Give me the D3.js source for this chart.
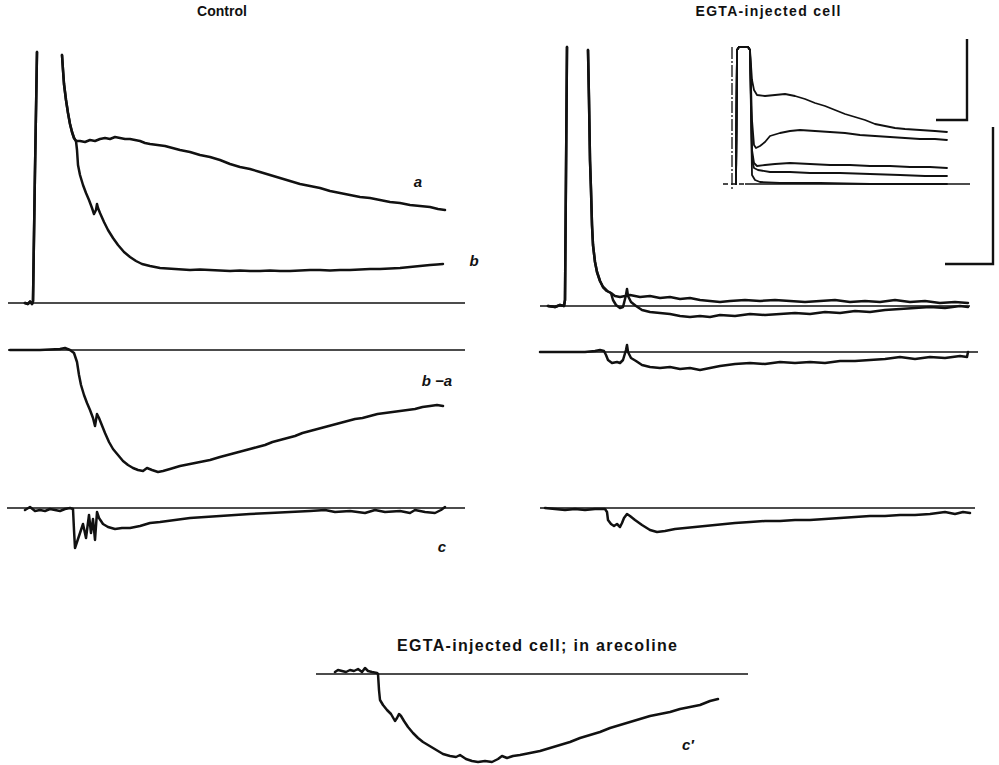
<!DOCTYPE html>
<html>
<head>
<meta charset="utf-8">
<script src="https://cdn.jsdelivr.net/npm/d3@7"></script>
<style>
  body { margin: 0; background: #fff; }
  svg { display: block; }
  .title { font-family: "Liberation Sans", Arial, sans-serif; font-weight: bold; fill: #111; }
  .lab { font-family: "Liberation Sans", Arial, sans-serif; font-weight: bold; font-style: italic; fill: #111; }
</style>
</head>
<body>
<script>
// Membrane potential (mV) and current traces, time in ms from spike onset.
// Each point is [t, value]; null marks where the off-scale spike leaves the frame.

const ctrlSpike = [[-16,0],[-10,-0.1],[-6,0.15],[-2,-0.1],[0,0.2],[4,13.3],[8,25.1],null,
  [58,24.8],[60,23.3],[62,21.9],[66,20.3],[70,19.0],[74,17.9],[78,17.1],[82,16.5],[86,16.2]];
const ctrlA = [[94,16.2],[104,16.1],[114,16.3],[124,16.2],[134,16.4],[144,16.5],[154,16.4],[164,16.6],
  [174,16.5],[184,16.4],[194,16.4],[204,16.3],[214,16.2],[224,16.0],[234,15.9],[249,15.8],[264,15.7],
  [279,15.5],[294,15.3],[314,15.1],[334,14.8],[354,14.6],[374,14.3],[394,13.9],[414,13.6],[434,13.4],
  [454,13.1],[474,12.8],[494,12.5],[514,12.2],[534,11.9],[554,11.7],[574,11.5],[594,11.2],[614,11.0],
  [634,10.8],[654,10.6],[674,10.5],[694,10.3],[714,10.1],[734,10.0],[754,9.8],[774,9.7],[794,9.6],
  [810,9.4],[824,9.3]];
const ctrlB = [[88,15.3],[90,13.8],[94,12.8],[100,11.8],[106,11.0],[112,10.3],[118,9.5],[122,8.9],
  [126,9.3],[128,9.9],[130,9.5],[134,9.0],[142,8.1],[150,7.3],[160,6.5],[170,5.8],[182,5.1],[194,4.6],
  [206,4.2],[218,3.9],[234,3.7],[254,3.5],[269,3.45],[284,3.4],[299,3.35],[314,3.3],[334,3.35],
  [354,3.3],[374,3.25],[394,3.2],[414,3.25],[434,3.2],[454,3.2],[474,3.25],[494,3.2],[514,3.2],
  [534,3.25],[554,3.3],[574,3.3],[594,3.25],[614,3.3],[634,3.3],[654,3.35],[674,3.4],[694,3.4],
  [714,3.45],[734,3.5],[754,3.6],[774,3.7],[794,3.8],[808,3.85],[820,3.9]];

const ctrlBminusA = [[-46,0],[-26,0],[14,0],[54,0.1],[64,0.2],[74,0],[82,-0.3],[88,-1.2],[92,-2.5],
  [96,-3.5],[102,-4.5],[108,-5.3],[114,-6.0],[120,-6.8],[124,-7.6],[126,-7.0],[128,-6.4],[132,-6.8],
  [136,-7.3],[144,-8.3],[152,-9.2],[160,-9.9],[170,-10.5],[180,-11.1],[190,-11.5],[200,-11.8],
  [210,-12.0],[220,-12.1],[228,-11.8],[238,-12.0],[250,-12.2],[260,-12.1],[274,-11.9],[294,-11.6],
  [314,-11.4],[334,-11.2],[354,-11.0],[374,-10.7],[389,-10.5],[404,-10.3],[419,-10.1],[434,-9.9],
  [449,-9.7],[464,-9.5],[479,-9.2],[494,-9.0],[509,-8.8],[524,-8.6],[539,-8.3],[554,-8.1],[569,-7.9],
  [584,-7.7],[599,-7.5],[614,-7.3],[629,-7.1],[644,-6.9],[659,-6.8],[674,-6.6],[689,-6.4],[704,-6.3],
  [719,-6.2],[734,-6.1],[749,-6.0],[764,-5.9],[779,-5.7],[794,-5.6],[808,-5.5],[820,-5.6]];

const ctrlC = [[-16,-0.2],[-6,0.1],[4,-0.3],[14,-0.2],[24,-0.3],[34,-0.1],[44,-0.2],[54,-0.3],[64,-0.1],
  [74,0],[80,-0.1],[82,-2.2],[84,-4.0],[92,-2.8],[100,-1.6],[106,-3.0],[112,-0.7],[116,-2.5],[120,-1.1],
  [124,-3.2],[128,-0.4],[132,-1.0],[140,-1.6],[150,-1.9],[164,-2.1],[178,-2.0],[194,-2.0],[214,-1.8],
  [234,-1.5],[254,-1.4],[284,-1.2],[314,-1.0],[344,-0.9],[374,-0.8],[404,-0.7],[434,-0.6],[474,-0.5],
  [514,-0.4],[554,-0.3],[584,-0.2],[604,-0.4],[634,-0.3],[664,-0.5],[684,-0.2],[704,-0.4],[734,-0.3],
  [754,-0.5],[764,-0.2],[784,-0.4],[804,-0.5],[816,-0.2],[824,0.1]];

const egtaSpike = [[-34,0],[-20,-0.1],[-10,0.1],[-2,0],[0,0.6],[4,25.9],null,
  [46,25.6],[48,20.6],[50,14.6],[52,11.6],[54,8.1],[56,6.1],[60,4.4],[64,3.4],[70,2.5],[76,1.9],
  [84,1.5],[92,1.3]];
const egtaA = [[100,1.0],[110,0.9],[120,1.0],[130,1.1],[150,0.9],[170,1.0],[190,0.8],[210,0.9],
  [230,0.7],[250,0.8],[270,0.6],[290,0.5],[310,0.4],[330,0.5],[360,0.6],[390,0.5],[420,0.6],[450,0.5],
  [480,0.4],[510,0.5],[540,0.6],[570,0.4],[600,0.5],[630,0.4],[660,0.6],[690,0.4],[720,0.5],[750,0.3],
  [780,0.4],[806,0.3]];
const egtaB = [[96,0.6],[102,0.1],[110,-0.2],[116,-0.1],[122,1.1],[124,1.7],[126,1.0],[132,0.4],
  [142,0.0],[154,-0.4],[170,-0.6],[190,-0.7],[210,-0.8],[230,-1.0],[250,-1.1],[270,-1.0],[290,-1.1],
  [310,-0.9],[340,-1.0],[370,-0.8],[400,-0.9],[430,-0.8],[460,-0.7],[490,-0.8],[520,-0.6],[550,-0.7],
  [580,-0.5],[610,-0.6],[640,-0.4],[670,-0.3],[700,-0.2],[730,-0.1],[760,-0.2],[790,0.0],[806,-0.1]];

const egtaBminusA = [[-50,0],[-10,0],[40,0],[60,0.1],[70,0.2],[78,0.1],[82,-0.3],[86,-0.8],[94,-1.1],
  [104,-1.0],[110,-1.1],[116,-0.8],[122,0.2],[124,0.7],[126,0.0],[132,-0.6],[142,-0.9],[154,-1.3],
  [170,-1.5],[190,-1.6],[210,-1.5],[230,-1.7],[250,-1.6],[270,-1.8],[290,-1.6],[310,-1.4],[340,-1.2],
  [370,-1.1],[400,-1.2],[430,-1.0],[460,-1.1],[490,-1.0],[520,-1.1],[550,-0.9],[580,-0.9],[610,-0.8],
  [640,-0.7],[670,-0.5],[700,-0.7],[730,-0.5],[760,-0.6],[790,-0.4],[804,-0.5],[806,0]];

const egtaC = [[-40,0],[-20,-0.1],[0,-0.2],[20,-0.1],[40,-0.2],[60,-0.1],[80,-0.1],[84,-0.4],[86,-1.2],
  [92,-1.6],[98,-1.8],[104,-1.6],[110,-1.9],[114,-1.5],[118,-1.0],[124,-0.6],[130,-0.8],[140,-1.2],
  [154,-1.7],[170,-2.2],[184,-2.4],[200,-2.3],[220,-2.1],[240,-2.0],[260,-1.9],[280,-1.8],[300,-1.7],
  [320,-1.6],[340,-1.5],[370,-1.4],[400,-1.3],[430,-1.3],[460,-1.2],[490,-1.2],[520,-1.1],[550,-1.0],
  [580,-0.9],[610,-0.8],[640,-0.8],[670,-0.7],[700,-0.7],[730,-0.6],[760,-0.4],[780,-0.6],[796,-0.4],
  [810,-0.5]];

const arecC = [[-4,0.2],[2,0.4],[10,0.3],[18,0.2],[26,0.4],[34,0.3],[42,0.5],[50,0.2],[56,0.6],[62,0.3],
  [70,0.2],[80,0.1],[82,0],[84,-1.6],[86,-2.6],[92,-3.1],[100,-3.6],[108,-4.0],[116,-4.7],[120,-4.4],
  [124,-4.0],[128,-4.2],[134,-4.7],[142,-5.3],[152,-5.9],[162,-6.4],[172,-6.8],[182,-7.1],[192,-7.4],
  [202,-7.7],[212,-8.0],[226,-8.2],[238,-8.3],[246,-8.1],[258,-8.5],[270,-8.7],[282,-8.8],[296,-8.7],
  [310,-8.8],[322,-8.5],[330,-8.2],[340,-8.4],[352,-8.2],[366,-8.1],[386,-7.9],[406,-7.7],[426,-7.4],
  [446,-7.1],[466,-6.8],[486,-6.4],[506,-6.1],[526,-5.8],[546,-5.4],[566,-5.1],[586,-4.8],[606,-4.5],
  [626,-4.2],[646,-4.0],[666,-3.8],[686,-3.5],[706,-3.3],[726,-3.1],[746,-2.7],[762,-2.5]];

// Inset: superimposed responses at a slower sweep
const insetSpike = [[0,0],[2,13.4],[6,13.7],[24,13.7],[28,13.4]];
const insetTrace1 = [[32,10.4],[36,9.4],[42,8.9],[58,8.8],[78,8.9],[98,9.0],[118,8.8],[138,8.5],[158,8.1],
  [178,7.8],[198,7.4],[218,7.0],[238,6.7],[258,6.4],[278,6.0],[298,5.8],[318,5.6],[338,5.5],[368,5.4],
  [398,5.3],[422,5.2]];
const insetTrace2 = [[32,6.4],[36,3.9],[40,3.6],[48,3.8],[58,4.2],[68,4.8],[88,5.1],[108,5.3],[128,5.4],
  [158,5.3],[188,5.2],[218,5.1],[248,4.9],[278,4.8],[308,4.7],[338,4.6],[368,4.5],[398,4.5],[422,4.4]];
const insetTrace3 = [[32,3.4],[36,2.1],[42,1.8],[58,1.9],[78,2.0],[108,2.1],[148,2.0],[188,1.9],[228,1.9],
  [268,1.8],[308,1.8],[348,1.7],[388,1.7],[422,1.6]];
const insetTrace4 = [[32,2.4],[36,1.6],[44,1.4],[68,1.2],[108,1.2],[148,1.1],[208,1.1],[268,1.0],[328,0.9],
  [378,0.8],[422,0.8]];
const insetTrace5 = [[32,0.9],[38,0.4],[48,0.2],[88,0.1],[168,0.1],[268,0],[422,0]];

const titles = ["Control", "EGTA-injected cell", "EGTA-injected cell; in arecoline"];
const traceLabels = ["a", "b", "b \u2212a", "c", "c\u2032"];

const W = 999, H = 765;
const svg = d3.select("body").append("svg").attr("width", W).attr("height", H);

// time scales (2 ms per pixel)
const xCtrl = d3.scaleLinear().domain([0, 800]).range([33, 433]);
const xEgta = d3.scaleLinear().domain([0, 800]).range([565, 965]);
const xArec = d3.scaleLinear().domain([0, 800]).range([337, 737]);
const xInset = d3.scaleLinear().domain([0, 400]).range([736, 936]);

// value scales, one per row
const yCtrlV = d3.scaleLinear().domain([0, 25]).range([303, 53]);
const yCtrlD = d3.scaleLinear().domain([0, -12]).range([350, 470]);
const yCtrlC = d3.scaleLinear().domain([0, -4]).range([508, 548]);
const yEgtaV = d3.scaleLinear().domain([0, 25]).range([306, 56]);
const yEgtaD = d3.scaleLinear().domain([0, -2]).range([352, 372]);
const yEgtaC = d3.scaleLinear().domain([0, -2]).range([508, 528]);
const yArec  = d3.scaleLinear().domain([0, -8]).range([674, 754]);
const yInset = d3.scaleLinear().domain([0, 13]).range([184, 54]);

function trace(data, x, y, w) {
  const line = d3.line().defined(d => d != null).x(d => x(d[0])).y(d => y(d[1]));
  svg.append("path").attr("d", line(data)).attr("fill", "none").attr("stroke", "#111")
    .attr("stroke-width", w || 2.5).attr("stroke-linejoin", "round").attr("stroke-linecap", "round");
}
function baseline(t0, t1, x, y, w, dash) {
  const p = svg.append("line").attr("x1", x(t0)).attr("x2", x(t1)).attr("y1", y(0)).attr("y2", y(0))
    .attr("stroke", "#111").attr("stroke-width", w || 1.6);
  if (dash) p.attr("stroke-dasharray", dash);
}

// zero lines
baseline(-50, 864, xCtrl, yCtrlV);
baseline(-50, 864, xCtrl, yCtrlD);
baseline(-52, 864, xCtrl, yCtrlC);
baseline(-50, 810, xEgta, yEgtaV);
baseline(-50, 826, xEgta, yEgtaD);
baseline(-50, 820, xEgta, yEgtaC);
baseline(-42, 822, xArec, yArec);

// control
trace(ctrlSpike.concat(ctrlA), xCtrl, yCtrlV);
trace(ctrlSpike.concat(ctrlB), xCtrl, yCtrlV);
trace(ctrlBminusA, xCtrl, yCtrlD);
trace(ctrlC, xCtrl, yCtrlC);

// EGTA-injected
trace(egtaSpike.concat(egtaA), xEgta, yEgtaV);
trace(egtaSpike.concat(egtaB), xEgta, yEgtaV);
trace(egtaBminusA, xEgta, yEgtaD);
trace(egtaC, xEgta, yEgtaC);

// EGTA-injected, in arecoline
trace(arecC, xArec, yArec);

// inset
baseline(-26, 18, xInset, yInset, 1.5, "5,3");
baseline(18, 468, xInset, yInset, 1.5);
svg.append("line").attr("x1", xInset(-8)).attr("x2", xInset(-8))
  .attr("y1", yInset(13.7)).attr("y2", yInset(-0.6))
  .attr("stroke", "#111").attr("stroke-width", 1.3).attr("stroke-dasharray", "12,2,2,2");
[insetTrace1, insetTrace2, insetTrace3, insetTrace4, insetTrace5].forEach(tr =>
  trace(insetSpike.concat(tr), xInset, yInset, 1.8));

// calibration bars
function calBar(x, y, t, v, dt, dv) {
  const p = d3.path();
  p.moveTo(x(t), y(v + dv)); p.lineTo(x(t), y(v)); p.lineTo(x(t - dt), y(v));
  svg.append("path").attr("d", p.toString()).attr("fill", "none").attr("stroke", "#111")
    .attr("stroke-width", 2.4);
}
calBar(xInset, yInset, 462, 6.4, 62, 8.1);
calBar(xEgta, yEgtaV, 856, 4.2, 96, 13.7);

// titles
svg.append("text").attr("class", "title").attr("x", 222).attr("y", 16).attr("text-anchor", "middle")
  .attr("font-size", 14).text(titles[0]);
svg.append("text").attr("class", "title").attr("x", 768).attr("y", 16).attr("text-anchor", "middle")
  .attr("font-size", 14).attr("textLength", 145).attr("lengthAdjust", "spacing").text(titles[1]);
svg.append("text").attr("class", "title").attr("x", 537).attr("y", 651).attr("text-anchor", "middle")
  .attr("font-size", 16).attr("textLength", 280).attr("lengthAdjust", "spacing").text(titles[2]);

// trace labels
const labPos = [[418, 187], [474, 266], [437, 386], [442, 552], [688, 750]];
traceLabels.forEach((s, i) => {
  svg.append("text").attr("class", "lab").attr("x", labPos[i][0]).attr("y", labPos[i][1])
    .attr("text-anchor", "middle").attr("font-size", 15).text(s);
});
</script>
</body>
</html>
